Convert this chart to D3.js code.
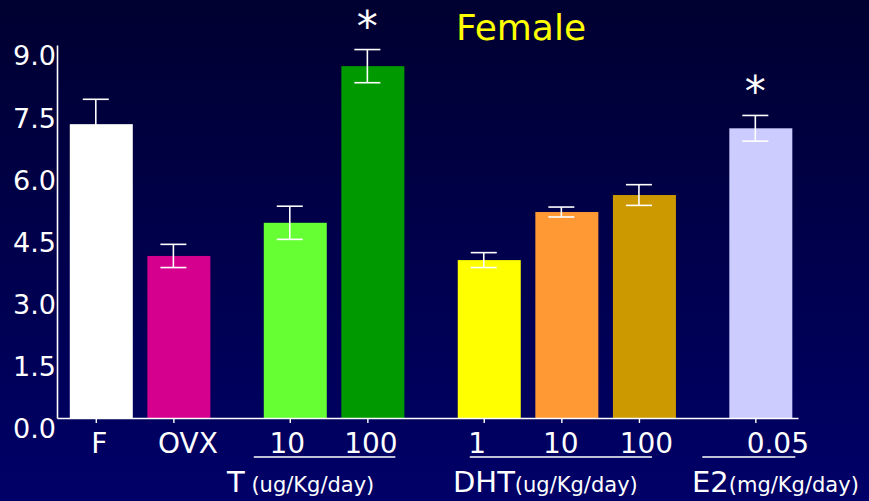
<!DOCTYPE html>
<html>
<head>
<meta charset="utf-8">
<script src="https://cdn.jsdelivr.net/npm/d3@7"></script>
<style>
  html, body { margin: 0; padding: 0; background: #000040; }
  svg { display: block; }
  text { font-family: "DejaVu Sans", Verdana, sans-serif; }
</style>
</head>
<body>
<svg id="chart" width="869" height="501"></svg>
<script>
// ---------- data ----------
const categories = ["F", "OVX", "T10", "T100", "DHT1", "DHT10", "DHT100", "E2"];
const groups = [["F", "OVX"], ["T10", "T100"], ["DHT1", "DHT10", "DHT100"], ["E2"]];
const tickLabels = ["F", "OVX", "10", "100", "1", "10", "100", "0.05"];
const means = [7.09, 3.91, 4.71, 8.49, 3.81, 4.97, 5.38, 6.99];
const errors = [0.60, 0.28, 0.40, 0.40, 0.18, 0.12, 0.25, 0.31];
const significant = [false, false, false, true, false, false, false, true];
const colors = ["#ffffff", "#d6008e", "#66ff33", "#009900", "#ffff00", "#ff9933", "#cc9900", "#ccccff"];
const yTicks = [0, 1.5, 3.0, 4.5, 6.0, 7.5, 9.0];
const title = "Female";
const groupTitles = [
  { main: "T", unit: " (ug/Kg/day)" },
  { main: "DHT", unit: "(ug/Kg/day)" },
  { main: "E2", unit: "(mg/Kg/day)" }
];

// ---------- layout ----------
const svg = d3.select("#chart");
const W = 869, H = 501;

// slot index per category: groups separated by half-slot gaps
const slotOf = {};
{
  let s = 0;
  groups.forEach((g, gi) => {
    if (gi > 0) s += 0.5;
    g.forEach(c => { slotOf[c] = s; s += 1; });
  });
}

const x = d3.scaleLinear().domain([-0.5, 9.05]).range([57, 798]);
const y = d3.scaleLinear().domain([0, 9]).range([418, 45]);
const barW = 63, barShift = 5.5, capW = 26;

// background gradient
const defs = svg.append("defs");
const grad = defs.append("linearGradient").attr("id", "bg").attr("x1", 0).attr("y1", 0).attr("x2", 0).attr("y2", 1);
grad.append("stop").attr("offset", "0%").attr("stop-color", "#000030");
grad.append("stop").attr("offset", "100%").attr("stop-color", "#000068");
svg.append("rect").attr("width", W).attr("height", H).attr("fill", "url(#bg)");

// bars
const data = categories.map((c, i) => ({ c, i, v: means[i], e: errors[i], col: colors[i], sig: significant[i] }));
svg.append("g").selectAll("rect").data(data).join("rect")
  .attr("x", d => x(slotOf[d.c]) + barShift - barW / 2)
  .attr("y", d => y(d.v))
  .attr("width", barW)
  .attr("height", d => y(0) - y(d.v))
  .attr("fill", d => d.col);

// error bars
const eb = svg.append("g").attr("stroke", "#ffffff").attr("stroke-width", 1.6);
data.forEach(d => {
  const cx = x(slotOf[d.c]);
  eb.append("line").attr("x1", cx).attr("x2", cx).attr("y1", y(d.v + d.e)).attr("y2", y(d.v - d.e));
  eb.append("line").attr("x1", cx - capW / 2).attr("x2", cx + capW / 2).attr("y1", y(d.v + d.e)).attr("y2", y(d.v + d.e));
  eb.append("line").attr("x1", cx - capW / 2).attr("x2", cx + capW / 2).attr("y1", y(d.v - d.e)).attr("y2", y(d.v - d.e));
});

// significance asterisks
svg.append("g").selectAll("text").data(data.filter(d => d.sig)).join("text")
  .attr("x", d => x(slotOf[d.c]))
  .attr("y", d => y(d.v + d.e) - 9)
  .attr("text-anchor", "middle")
  .attr("fill", "#ffffff")
  .attr("font-size", 42)
  .text("*");

// y axis
const yAxis = svg.append("g").attr("transform", `translate(${x.range()[0]},0)`)
  .call(d3.axisLeft(y).tickValues(yTicks).tickSize(0).tickPadding(1).tickFormat(d3.format(".1f")));
yAxis.select(".domain").attr("stroke", "#ffffff").attr("stroke-width", 1.6);
yAxis.selectAll("text").attr("fill", "#ffffff").attr("font-size", 27)
  .attr("font-family", "DejaVu Sans").attr("dy", "0.74em");

// x axis
const labelDx = [3, 14, -3, 3, -7, -1, 7, 22];
const xAxis = svg.append("g").attr("transform", `translate(0,${y(0)})`)
  .call(d3.axisBottom(x).tickValues(categories.map(c => slotOf[c])).tickSize(5).tickSizeOuter(0)
    .tickFormat((d, i) => tickLabels[i]));
xAxis.select(".domain").attr("stroke", "#ffffff").attr("stroke-width", 1.6);
xAxis.selectAll(".tick line").attr("stroke", "#ffffff").attr("stroke-width", 1.4);
xAxis.selectAll("text").attr("fill", "#ffffff").attr("font-size", 28)
  .attr("font-family", "DejaVu Sans").attr("y", 15)
  .attr("dx", (d, i) => labelDx[i]);

// group underlines
const underlines = [
  { from: "T10", to: "T100", l: -36, r: 28 },
  { from: "DHT1", to: "DHT100", l: -14, r: 13 },
  { from: "E2", to: "E2", l: -53, r: 40 }
];
svg.append("g").attr("stroke", "#ffffff").attr("stroke-width", 1.6)
  .selectAll("line").data(underlines).join("line")
  .attr("x1", d => x(slotOf[d.from]) + d.l)
  .attr("x2", d => x(slotOf[d.to]) + d.r)
  .attr("y1", 457).attr("y2", 457);

// group titles
const titleX = [227, 453, 692];
groupTitles.forEach((g, i) => {
  const t = svg.append("text").attr("x", titleX[i]).attr("y", 492).attr("fill", "#ffffff");
  t.append("tspan").attr("font-size", 29).text(g.main);
  t.append("tspan").attr("font-size", 21).attr("xml:space", "preserve").style("white-space", "pre").text(g.unit);
});

// title
svg.append("text").attr("x", 521).attr("y", 40).attr("text-anchor", "middle")
  .attr("fill", "#ffff00").attr("font-size", 36).text(title);
</script>
</body>
</html>
